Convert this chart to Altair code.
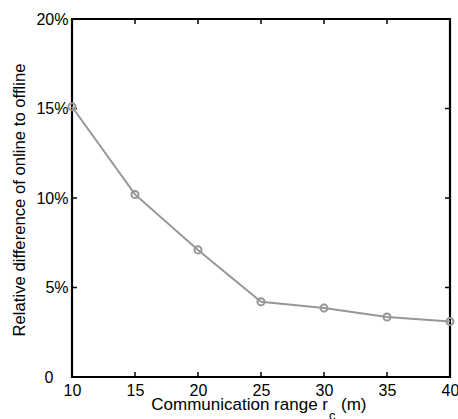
import altair as alt
import pandas as pd

comm_range = [10, 15, 20, 25, 30, 35, 40]
rel_diff = [15.1, 10.2, 7.1, 4.2, 3.85, 3.35, 3.1]
x_ticks = [15, 20, 25, 30, 35]
y_ticks = [5, 10, 15]
x_tick_labels = [10, 15, 20, 25, 30, 35, 40]
y_tick_labels = [0, 5, 10, 15, 20]

W, H = 378, 358
FONT = "Liberation Sans"
GREY = "#979797"

df = pd.DataFrame({"x": comm_range, "y": rel_diff})
xt = pd.DataFrame({"x": x_ticks})
yt = pd.DataFrame({"y": y_ticks})

xscale = alt.Scale(domain=[10, 40], nice=False, zero=False)
yscale = alt.Scale(domain=[0, 20], nice=False)

xaxis = alt.Axis(values=x_tick_labels, title=None, grid=False, domain=False, ticks=False,
                 labelFont=FONT, labelFontSize=16, labelColor="black", labelPadding=5,
                 labelFlush=False)
yaxis = alt.Axis(values=y_tick_labels, title=None, grid=False, domain=False, ticks=False,
                 labelFont=FONT, labelFontSize=16, labelColor="black",
                 labelPadding={"condition": {"test": "datum.value == 0", "value": 19}, "value": 4},
                 labelExpr="datum.value == 0 ? '0' : format(datum.value, 'd') + '%'")

base = alt.Chart(df)
line = base.mark_line(color=GREY, strokeWidth=2).encode(
    x=alt.X("x:Q", scale=xscale, axis=xaxis),
    y=alt.Y("y:Q", scale=yscale, axis=yaxis),
)
pts = base.mark_point(shape="circle", filled=False, color=GREY, size=50, strokeWidth=2, opacity=1).encode(
    x=alt.X("x:Q", scale=xscale),
    y=alt.Y("y:Q", scale=yscale),
)

tl = 5
bot_ticks = alt.Chart(xt).mark_rule(color="black", strokeWidth=1.5).encode(
    x=alt.X("x:Q", scale=xscale), y=alt.value(H), y2=alt.value(H - tl))
top_ticks = alt.Chart(xt).mark_rule(color="black", strokeWidth=1.5).encode(
    x=alt.X("x:Q", scale=xscale), y=alt.value(0), y2=alt.value(tl))
left_ticks = alt.Chart(yt).mark_rule(color="black", strokeWidth=1.5).encode(
    y=alt.Y("y:Q", scale=yscale), x=alt.value(0), x2=alt.value(tl))
right_ticks = alt.Chart(yt).mark_rule(color="black", strokeWidth=1.5).encode(
    y=alt.Y("y:Q", scale=yscale), x=alt.value(W), x2=alt.value(W - tl))

xt1 = alt.Chart(pd.DataFrame({"t": ["Communication range r"]})).mark_text(
    font=FONT, fontSize=17, align="right", baseline="alphabetic", color="black").encode(
    text="t:N", x=alt.value(256), y=alt.value(391))
xt2 = alt.Chart(pd.DataFrame({"t": ["c"]})).mark_text(
    font=FONT, fontSize=13, align="left", baseline="alphabetic", color="black").encode(
    text="t:N", x=alt.value(257), y=alt.value(401))
xt3 = alt.Chart(pd.DataFrame({"t": ["(m)"]})).mark_text(
    font=FONT, fontSize=17, align="left", baseline="alphabetic", color="black").encode(
    text="t:N", x=alt.value(269), y=alt.value(391))
ytitle = alt.Chart(pd.DataFrame({"t": ["Relative difference of online to offline"]})).mark_text(
    font=FONT, fontSize=16.7, align="center", baseline="middle", angle=270, color="black").encode(
    text="t:N", x=alt.value(-52), y=alt.value(181))

chart = alt.layer(bot_ticks, top_ticks, left_ticks, right_ticks, line, pts, xt1, xt2, xt3, ytitle).properties(
    width=W, height=H,
    autosize=alt.AutoSizeParams(type="none"),
    padding={"left": 72, "top": 19, "right": 8, "bottom": 42},
).configure(background="white").configure_view(stroke="black", strokeWidth=2.2)

chart.save("out.html", embed_options={"renderer": "svg", "actions": False})
